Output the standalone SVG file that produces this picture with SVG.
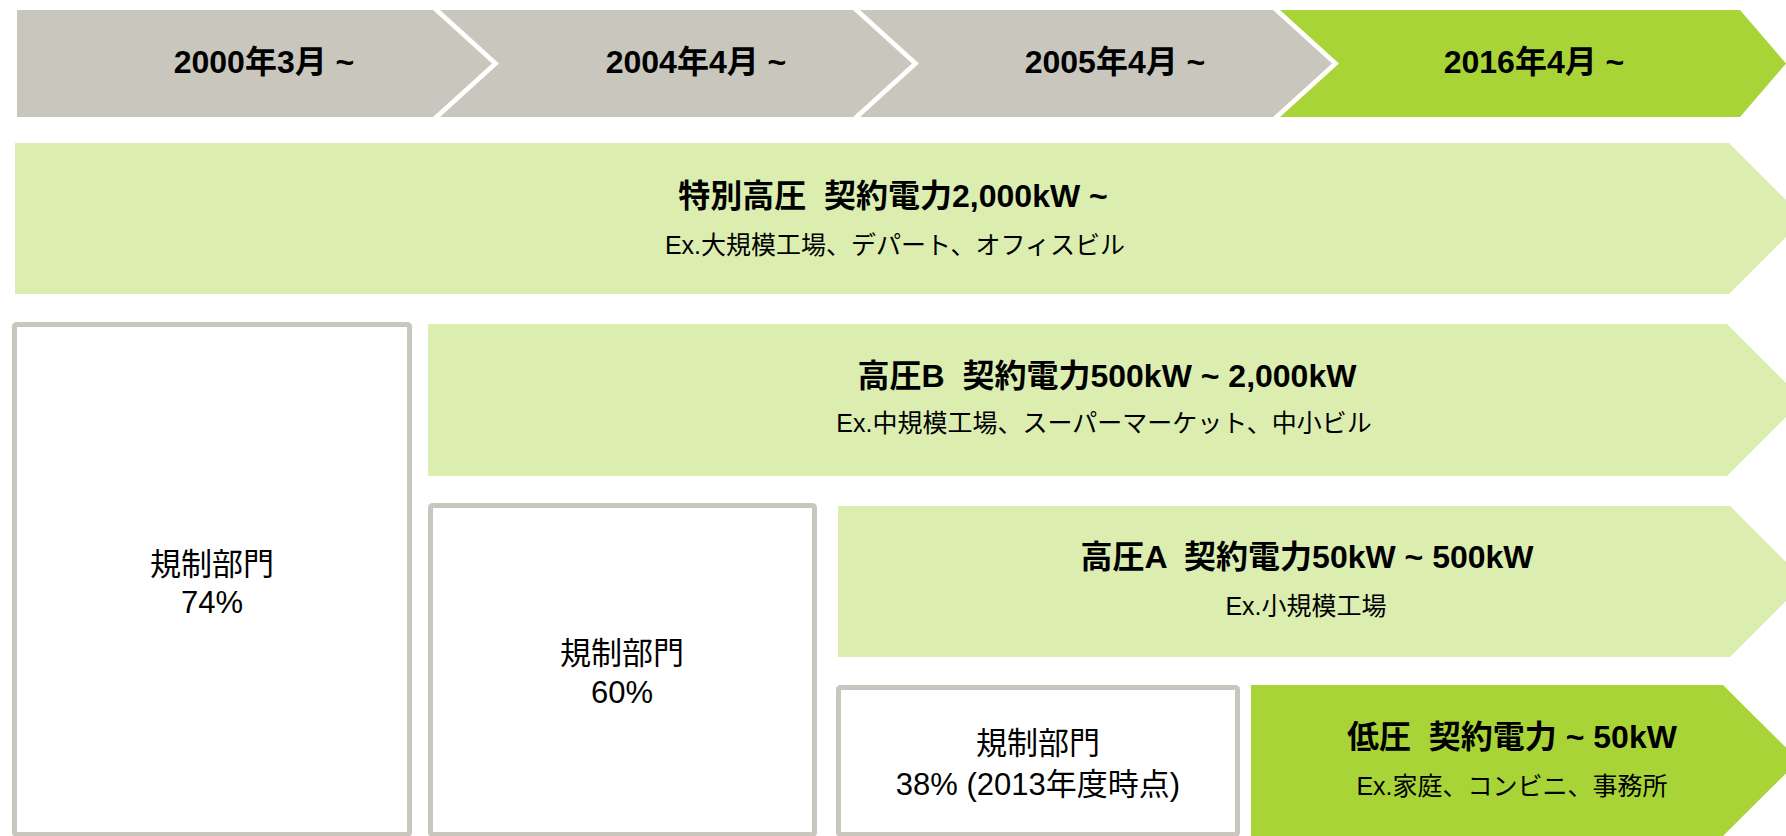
<svg xmlns="http://www.w3.org/2000/svg" width="1786" height="836" viewBox="0 0 1786 836">
<style>
text { font-family: "Liberation Sans", "Noto Sans CJK JP", sans-serif; text-anchor: middle; fill: #000; }
.hd { font-size: 32px; font-weight: bold; }
.tt { font-size: 32px; font-weight: bold; }
.st { font-size: 25px; }
.bx { font-size: 31px; }
.gray { fill: #c8c6bd; }
.lg { fill: #dcedb0; }
.bg { fill: #a8d437; }
.box { fill: #ffffff; stroke: #c8c6bd; stroke-width: 5; }
</style>
<rect width="1786" height="836" fill="#ffffff"/>
<g id="header-2000">
<polygon class="gray" points="17,10 433,10 492,63.5 433,117 17,117"/>
<text class="hd" x="264" y="73">2000年3月 ~</text>
</g>
<g id="header-2004">
<polygon class="gray" points="440,10 853,10 912,63.5 853,117 440,117 499,63.5"/>
<text class="hd" x="696" y="73">2004年4月 ~</text>
</g>
<g id="header-2005">
<polygon class="gray" points="860,10 1273,10 1332,63.5 1273,117 860,117 919,63.5"/>
<text class="hd" x="1115" y="73">2005年4月 ~</text>
</g>
<g id="header-2016">
<polygon class="bg" points="1280,10 1740,10 1786,63.5 1740,117 1280,117 1339,63.5"/>
<text class="hd" x="1534" y="73">2016年4月 ~</text>
</g>
<g id="bar-tokubetsu">
<polygon class="lg" points="15,143 1729,143 1804.5,218.5 1729,294 15,294"/>
<text class="tt" x="893" y="207" xml:space="preserve">特別高圧  契約電力2,000kW ~</text>
<text class="st" x="895" y="254">Ex.大規模工場、デパート、オフィスビル</text>
</g>
<g id="box-74">
<rect class="box" x="14.5" y="324.5" width="395" height="510" rx="2"/>
<text class="bx" x="212" y="575">規制部門</text>
<text class="bx" x="212" y="613">74%</text>
</g>
<g id="bar-kouatsu-b">
<polygon class="lg" points="428,324 1727,324 1803,400 1727,476 428,476"/>
<text class="tt" x="1107" y="387" xml:space="preserve">高圧B  契約電力500kW ~ 2,000kW</text>
<text class="st" x="1104" y="432">Ex.中規模工場、スーパーマーケット、中小ビル</text>
</g>
<g id="box-60">
<rect class="box" x="430.5" y="505.5" width="384" height="329" rx="2"/>
<text class="bx" x="622" y="664">規制部門</text>
<text class="bx" x="622" y="703">60%</text>
</g>
<g id="bar-kouatsu-a">
<polygon class="lg" points="838,506 1730,506 1805.5,581.5 1730,657 838,657"/>
<text class="tt" x="1307" y="568" xml:space="preserve">高圧A  契約電力50kW ~ 500kW</text>
<text class="st" x="1306" y="615">Ex.小規模工場</text>
</g>
<g id="box-38">
<rect class="box" x="838.5" y="687.5" width="399" height="147" rx="2"/>
<text class="bx" x="1038" y="754">規制部門</text>
<text class="bx" x="1038" y="795">38% (2013年度時点)</text>
</g>
<g id="bar-teiatsu">
<polygon class="bg" points="1251,685 1723,685 1799,760.5 1723,836 1251,836"/>
<text class="tt" x="1512" y="748" xml:space="preserve">低圧  契約電力 ~ 50kW</text>
<text class="st" x="1512" y="795">Ex.家庭、コンビニ、事務所</text>
</g>
<g id="connectors"></g>
</svg>
